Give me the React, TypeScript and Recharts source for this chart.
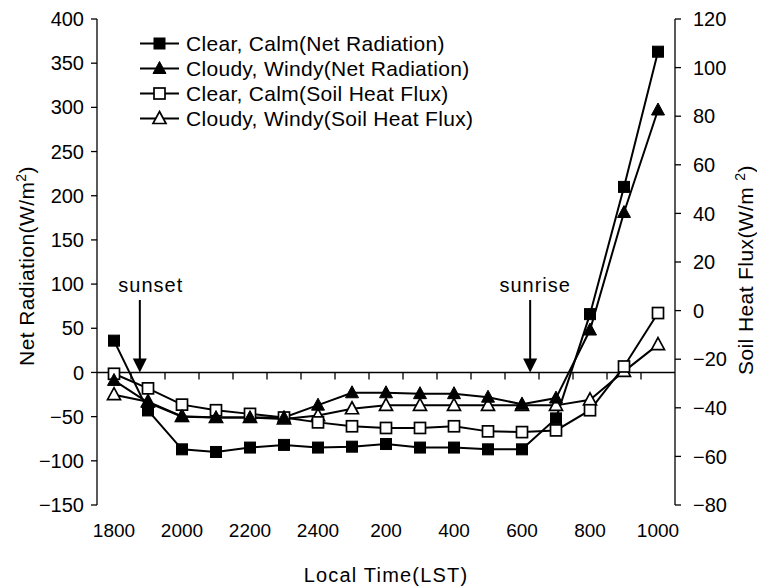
import React from 'react';
import { LineChart, Line, XAxis, YAxis, ReferenceLine, Legend, Label } from 'recharts';

const FONT = '"Liberation Sans", Arial, Helvetica, sans-serif';

const categories = ['1800', '1900', '2000', '2100', '2200', '2300', '2400', '100', '200', '300', '400', '500', '600', '700', '800', '900', '1000'];
const xTickLabels = ['1800', '2000', '2200', '2400', '200', '400', '600', '800', '1000'];
const leftTicks = [-150, -100, -50, 0, 50, 100, 150, 200, 250, 300, 350, 400];
const rightTicks = [-80, -60, -40, -20, 0, 20, 40, 60, 80, 100, 120];

const clearCalmNet = [36, -43, -87, -90, -85, -82, -85, -84, -81, -85, -85, -87, -87, -52, 66, 210, 363];
const cloudyWindyNet = [-9, -34, -50, -51, -51, -51, -37, -23, -23, -24, -24, -28, -36, -29, 48, 181, 297];
const clearCalmSoil = [-26, -32, -38.7, -41, -42.5, -44, -46, -47.6, -48.3, -48.3, -47.6, -49.7, -50, -49.3, -41, -23, -1];
const cloudyWindySoil = [-34.6, -37.5, -43.5, -44, -44, -44.6, -43.2, -40.4, -39, -39, -39, -39, -39, -39, -36.7, -25, -14];

const seriesNames = [
  'Clear, Calm(Net Radiation)',
  'Cloudy, Windy(Net Radiation)',
  'Clear, Calm(Soil Heat Flux)',
  'Cloudy, Windy(Soil Heat Flux)',
];

const sunsetAt = 0.76;
const sunriseAt = 12.24;

const data = categories.map((c, i) => ({
  idx: i,
  cat: c,
  ccNet: clearCalmNet[i],
  cwNet: cloudyWindyNet[i],
  ccSoil: clearCalmSoil[i],
  cwSoil: cloudyWindySoil[i],
}));

const xTicks = xTickLabels.map((l) => categories.indexOf(l));
const dividers = categories.slice(1).map((_, i) => i + 0.5);

type Kind = 'square' | 'triangle';

function Marker({ cx, cy, kind, filled }: { cx: number; cy: number; kind: Kind; filled: boolean }) {
  const fill = filled ? '#000' : '#fff';
  const sw = filled ? 1 : 1.7;
  if (kind === 'square') {
    return <rect x={cx - 5.5} y={cy - 5.5} width={11} height={11} fill={fill} stroke="#000" strokeWidth={sw} />;
  }
  return (
    <polygon
      points={`${cx},${cy - 7} ${cx + 6.5},${cy + 5} ${cx - 6.5},${cy + 5}`}
      fill={fill}
      stroke="#000"
      strokeWidth={sw}
      strokeLinejoin="miter"
    />
  );
}

const makeDot = (kind: Kind, filled: boolean) => (props: any) => {
  const { cx, cy, index } = props;
  if (cx == null || cy == null) return <g key={`n${index}`} />;
  return <Marker key={`${kind}${filled}${index}`} cx={cx} cy={cy} kind={kind} filled={filled} />;
};

const legendItems: { name: string; kind: Kind; filled: boolean }[] = [
  { name: seriesNames[0], kind: 'square', filled: true },
  { name: seriesNames[1], kind: 'triangle', filled: true },
  { name: seriesNames[2], kind: 'square', filled: false },
  { name: seriesNames[3], kind: 'triangle', filled: false },
];

const LegendContent = () => (
  <div style={{ fontFamily: FONT, fontSize: 21, letterSpacing: 0.3, color: '#000', lineHeight: '25px' }}>
    {legendItems.map((it) => (
      <div key={it.name} style={{ display: 'flex', alignItems: 'center', height: 25, whiteSpace: 'nowrap' }}>
        <svg width={42} height={25} style={{ display: 'block' }}>
          <line x1={1} y1={12.5} x2={40} y2={12.5} stroke="#000" strokeWidth={2} />
          <Marker cx={20.5} cy={12.5} kind={it.kind} filled={it.filled} />
        </svg>
        <span style={{ marginLeft: 5 }}>{it.name}</span>
      </div>
    ))}
  </div>
);

const minus = (v: number) => String(v).replace('-', '\u2212');

const ArrowShape = (label: string, dx: number) => (props: any) => {
  const { x1, y1, x2, y2 } = props;
  if (x1 == null) return <g />;
  const top = Math.min(y1, y2);
  const tip = Math.max(y1, y2);
  return (
    <g>
      <line x1={x1} y1={top} x2={x1} y2={tip - 12} stroke="#000" strokeWidth={2} />
      <polygon points={`${x1},${tip} ${x1 - 7},${tip - 14} ${x1 + 7},${tip - 14}`} fill="#000" />
      <text x={x1 + dx} y={top - 8} textAnchor="middle" fontFamily={FONT} fontSize={20} fill="#000" letterSpacing={1}>
        {label}
      </text>
    </g>
  );
};

const LeftTitle = (props: any) => {
  const vb = props.viewBox || { x: 0, y: 0, width: 0, height: 0 };
  const cx = vb.x + 26;
  const cy = vb.y + vb.height / 2 + 4;
  return (
    <text
      transform={`translate(${cx},${cy}) rotate(-90)`}
      textAnchor="middle"
      dy="0.36em"
      fontFamily={FONT}
      fontSize={21}
      letterSpacing={0.4}
      fill="#000"
    >
      <tspan>Net Radiation(W/m</tspan>
      <tspan dy={-8} fontSize={14}>2</tspan>
      <tspan dy={8}>)</tspan>
    </text>
  );
};

const RightTitle = (props: any) => {
  const vb = props.viewBox || { x: 0, y: 0, width: 0, height: 0 };
  const cx = vb.x + 70;
  const cy = vb.y + vb.height / 2 + 8;
  return (
    <text
      transform={`translate(${cx},${cy}) rotate(-90)`}
      textAnchor="middle"
      dy="0.36em"
      fontFamily={FONT}
      fontSize={21}
      letterSpacing={0.4}
      fill="#000"
    >
      <tspan>Soil Heat Flux(W/m </tspan>
      <tspan dy={-8} fontSize={14}>2</tspan>
      <tspan dy={8}>)</tspan>
    </text>
  );
};

const BottomTitle = (props: any) => {
  const vb = props.viewBox || { x: 0, y: 0, width: 0, height: 0 };
  return (
    <text
      x={vb.x + vb.width / 2}
      y={vb.y + 77}
      textAnchor="middle"
      fontFamily={FONT}
      fontSize={20}
      letterSpacing={1.2}
      fill="#000"
    >
      Local Time(LST)
    </text>
  );
};

export default function App() {
  return (
    <div style={{ position: 'absolute', left: 0, top: 0, background: '#fff' }}>
      <LineChart width={757} height={587} data={data} margin={{ top: 19, right: 0, bottom: 0, left: 0 }}>
        <XAxis
          xAxisId="x"
          dataKey="idx"
          type="number"
          domain={[-0.5, 16.5]}
          ticks={xTicks}
          tickFormatter={(v: number) => categories[v]}
          axisLine={false}
          tickLine={false}
          tickSize={0}
          tickMargin={19}
          height={82}
          interval={0}
          tick={{ fill: '#000', fontFamily: FONT, fontSize: 19 }}
        >
          <Label content={BottomTitle} />
        </XAxis>
        <YAxis
          yAxisId="left"
          orientation="left"
          domain={[-150, 400]}
          ticks={leftTicks}
          interval={0}
          width={97}
          tickSize={6}
          tickMargin={7}
          tickFormatter={minus}
          axisLine={{ stroke: '#000', strokeWidth: 1.3 }}
          tickLine={{ stroke: '#000', strokeWidth: 1.3 }}
          tick={{ fill: '#000', fontFamily: FONT, fontSize: 20 }}
        >
          <Label content={LeftTitle} />
        </YAxis>
        <YAxis
          yAxisId="right"
          orientation="right"
          domain={[-80, 120]}
          ticks={rightTicks}
          interval={0}
          width={82}
          tickSize={6}
          tickMargin={12}
          tickFormatter={minus}
          axisLine={{ stroke: '#000', strokeWidth: 1.3 }}
          tickLine={{ stroke: '#000', strokeWidth: 1.3 }}
          tick={{ fill: '#000', fontFamily: FONT, fontSize: 20, textAnchor: 'start' }}
        >
          <Label content={RightTitle} />
        </YAxis>

        <ReferenceLine xAxisId="x" yAxisId="left" y={0} stroke="#000" strokeWidth={1.5} />
        {dividers.map((d) => (
          <ReferenceLine
            key={`d${d}`}
            xAxisId="x"
            yAxisId="left"
            segment={[{ x: d, y: 0 }, { x: d, y: -8 }]}
            stroke="#000"
            strokeWidth={1.3}
          />
        ))}
        <ReferenceLine
          xAxisId="x"
          yAxisId="left"
          segment={[{ x: sunsetAt, y: 82 }, { x: sunsetAt, y: 0 }]}
          shape={ArrowShape('sunset', 11)}
        />
        <ReferenceLine
          xAxisId="x"
          yAxisId="left"
          segment={[{ x: sunriseAt, y: 82 }, { x: sunriseAt, y: 0 }]}
          shape={ArrowShape('sunrise', 5)}
        />

        <Line xAxisId="x" yAxisId="right" dataKey="cwSoil" stroke="#000" strokeWidth={2} dot={makeDot('triangle', false)} activeDot={false} isAnimationActive={false} />
        <Line xAxisId="x" yAxisId="right" dataKey="ccSoil" stroke="#000" strokeWidth={2} dot={makeDot('square', false)} activeDot={false} isAnimationActive={false} />
        <Line xAxisId="x" yAxisId="left" dataKey="cwNet" stroke="#000" strokeWidth={2} dot={makeDot('triangle', true)} activeDot={false} isAnimationActive={false} />
        <Line xAxisId="x" yAxisId="left" dataKey="ccNet" stroke="#000" strokeWidth={2} dot={makeDot('square', true)} activeDot={false} isAnimationActive={false} />

        <Legend
          layout="horizontal"
          verticalAlign="middle"
          align="center"
          content={LegendContent}
          wrapperStyle={{ left: 139, top: 31, width: 'auto', height: 'auto' }}
        />
      </LineChart>
    </div>
  );
}
